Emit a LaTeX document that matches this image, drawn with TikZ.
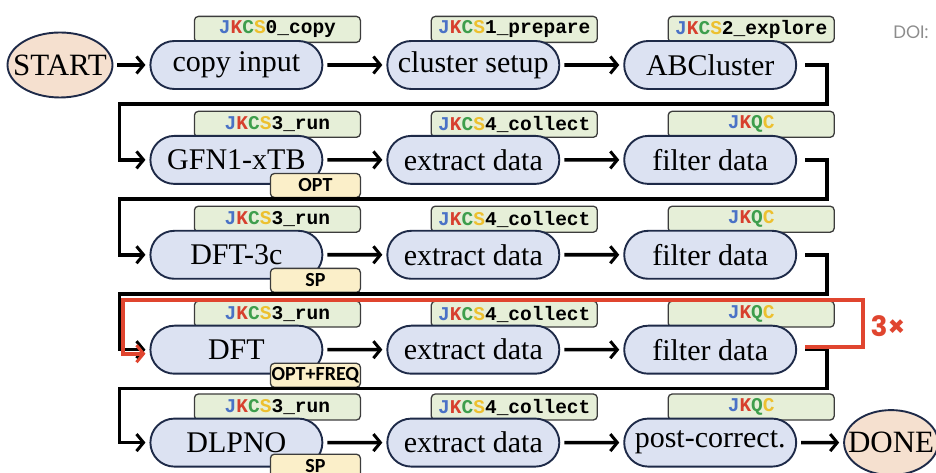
\documentclass[tikz,border=0pt]{standalone}
\usepackage{fontspec}
\setmainfont{Liberation Serif}
\setmonofont{Liberation Mono}
\newfontfamily\tagfont{Carlito}
\newfontfamily\doifont{Poppins}
\usetikzlibrary{positioning,calc,shapes.geometric,shapes.misc,arrows.meta,backgrounds}
\definecolor{boxfill}{HTML}{DCE2F2}
\definecolor{boxline}{HTML}{1E2A48}
\definecolor{cmdfill}{HTML}{E6EFD8}
\definecolor{tagline}{HTML}{3C3C3C}
\definecolor{calcfill}{HTML}{FBEFC9}
\definecolor{endfill}{HTML}{F5E0CF}
\definecolor{loopred}{HTML}{E0452F}
\definecolor{jblue}{HTML}{4A72C6}
\definecolor{kred}{HTML}{D7402E}
\definecolor{cgreen}{HTML}{3E9E4C}
\definecolor{syellow}{HTML}{EDC02F}
\newcommand{\jkcs}[1]{\textcolor{jblue}{J}\textcolor{kred}{K}\textcolor{cgreen}{C}\textcolor{syellow}{S}#1}
\newcommand{\jkqc}{\textcolor{jblue}{J}\textcolor{kred}{K}\textcolor{cgreen}{Q}\textcolor{syellow}{C}}
\tikzset{
  proc/.style={rounded rectangle, draw=boxline, fill=boxfill, line width=1.9pt,
    minimum width=172pt, minimum height=48pt, inner sep=0pt,
    font=\fontsize{30}{32}\selectfont},
  ends/.style={ellipse, draw=boxline, fill=endfill, line width=1.9pt,
    inner xsep=-12pt, inner ysep=0pt, minimum height=65pt,
    font=\fontsize{31}{32}\selectfont},
  cmdtag/.style={rectangle, rounded corners=4pt, draw=tagline, fill=cmdfill, line width=1.3pt,
    minimum width=166pt, minimum height=26pt, inner sep=0pt,
    font=\ttfamily\bfseries\fontsize{19.5}{20}\selectfont},
  calctag/.style={rectangle, rounded corners=4pt, draw=tagline, fill=calcfill, line width=1.3pt,
    minimum width=90pt, minimum height=24pt, inner sep=0pt,
    font=\tagfont\bfseries\fontsize{20}{22}\selectfont},
  link/.style={-{Straight Barb[length=7pt,width=17pt,line width=3pt]}, line width=3.6pt,
    shorten >=4pt, shorten <=4pt},
  redo/.style={link, draw=loopred, line width=4pt},
}
\begin{document}
\begin{tikzpicture}[x=1pt, y=1pt, node distance=45pt and 63pt]
  \useasboundingbox (0,0) rectangle (936,473);

  \node[ends, minimum width=105pt] (start) at (60,408) {START};
  \node[proc, right=36pt of start] (copy) {copy input};
  \node[proc, right=of copy] (setup) {cluster setup};
  \node[proc, right=of setup] (explore) {ABCluster};

  \node[proc, below=of copy] (gfn) {GFN1-xTB};
  \node[proc, right=of gfn] (gfnx) {extract data};
  \node[proc, right=of gfnx] (gfnf) {filter data};

  \node[proc, below=of gfn] (dftc) {DFT-3c};
  \node[proc, right=of dftc] (dftcx) {extract data};
  \node[proc, right=of dftcx] (dftcf) {filter data};

  \node[proc, below=of dftc] (dft) {DFT};
  \node[proc, right=of dft] (dftx) {extract data};
  \node[proc, right=of dftx] (dftf) {filter data};

  \node[proc, below=43pt of dft] (dlpno) {DLPNO};
  \node[proc, right=of dlpno] (dlpx) {extract data};
  \node[proc, right=of dlpx] (post) {post-correct.};
  \node[ends, minimum width=94pt, right=46pt of post] (done) {DONE};

  \begin{pgfonlayer}{background}
    \node[cmdtag, above=-3pt of copy, xshift=41pt] (copytag) {\jkcs{0\_copy}};
    \node[cmdtag, above=-3pt of setup, xshift=41pt] (setuptag) {\jkcs{1\_prepare}};
    \node[cmdtag, above=-3pt of explore, xshift=41pt] (exploretag) {\jkcs{2\_explore}};
    \foreach \row in {gfn, dftc, dft, dlpno} {
      \node[cmdtag, above=-3pt of \row, xshift=41pt] (\row tag) {\jkcs{3\_run}};
    }
    \foreach \row in {gfnx, dftcx, dftx, dlpx} {
      \node[cmdtag, above=-3pt of \row, xshift=41pt] (\row tag) {\jkcs{4\_collect}};
    }
    \foreach \row in {gfnf, dftcf, dftf, post} {
      \node[cmdtag, above=-3pt of \row, xshift=41pt] (\row tag) {\jkqc};
    }
  \end{pgfonlayer}

  \node[calctag, below=-12pt of gfn, xshift=79pt] (gfnlvl) {OPT};
  \node[calctag, below=-12pt of dftc, xshift=79pt] (dftclvl) {SP};
  \node[calctag, below=-12pt of dft, xshift=79pt] (dftlvl) {OPT+FREQ};
  \node[calctag, below=-14pt of dlpno, xshift=79pt] (dlpnolvl) {SP};

  \draw[link] (start) -- (copy);
  \draw[link] (copy) -- (setup);
  \draw[link] (setup) -- (explore);
  \draw[link] (gfn) -- (gfnx);
  \draw[link] (gfnx) -- (gfnf);
  \draw[link] (dftc) -- (dftcx);
  \draw[link] (dftcx) -- (dftcf);
  \draw[link] (dft) -- (dftx);
  \draw[link] (dftx) -- (dftf);
  \draw[link] (dlpno) -- (dlpx);
  \draw[link] (dlpx) -- (post);
  \draw[link] (post) -- (done);

  \foreach \a/\b in {explore/gfn, gfnf/dftc, dftcf/dft, dftf/dlpno} {
    \draw[link] ([xshift=4pt]\a.east) -| ($(\a.east |- \a.south)+(30pt,-14pt)$)
      -| ($(\b.west)+(-30pt,0)$) -- (\b.west);
  }
  \draw[redo] ([xshift=4pt,yshift=3pt]dftf.east) -| ($(dftcf.east |- dftcf.south)+(66pt,-20pt)$)
    -| ($(dft.west)+(-26pt,-4pt)$) -- ([yshift=-4pt]dft.west);
  \node[anchor=west, text=loopred, font=\doifont\bfseries\fontsize{28}{30}\selectfont]
    (times) at ($(dftf.east)+(70pt,24pt)$) {3×};

  \node[anchor=east, text=black!45, font=\doifont\fontsize{18}{20}\selectfont]
    (doi) at (932,441) {DOI:};
\end{tikzpicture}
\end{document}
